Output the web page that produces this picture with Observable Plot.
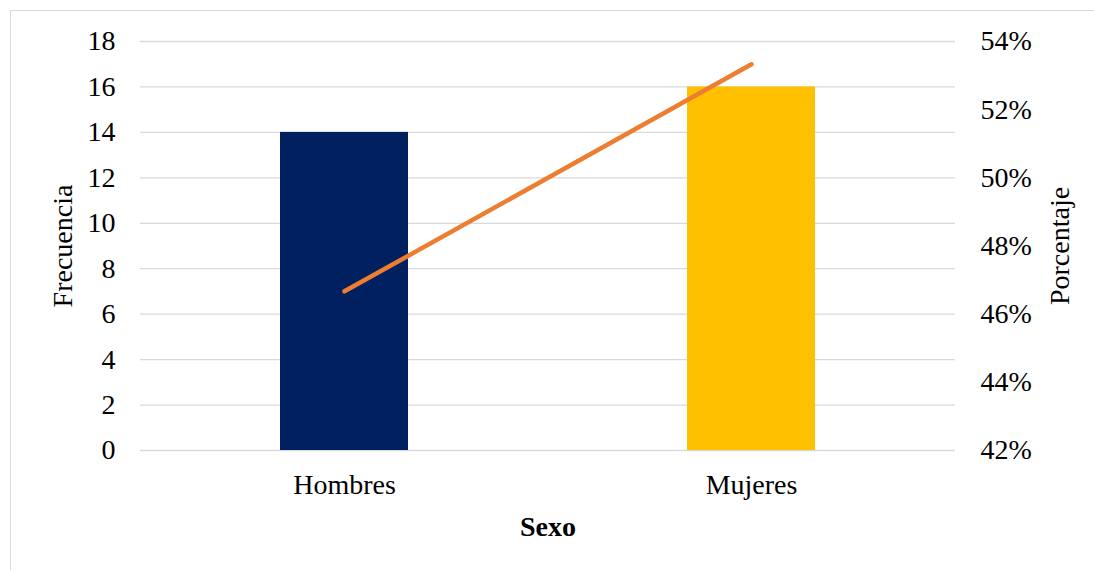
<!DOCTYPE html>
<html>
<head>
<meta charset="utf-8">
<script src="https://cdn.jsdelivr.net/npm/d3@7"></script>
<script src="https://cdn.jsdelivr.net/npm/@observablehq/plot@0.6"></script>
<style>
  html, body { margin: 0; padding: 0; background: #fff; }
  #wrap { position: relative; width: 1094px; height: 570px; overflow: hidden; }
  #border { position: absolute; left: 10px; top: 10px; width: 1200px; height: 700px;
            border-left: 1.5px solid #d9d9d9; border-top: 1.5px solid #d9d9d9; box-sizing: border-box; }
  #chart { position: absolute; left: 0; top: 0; }
  #chart svg text { font-family: 'Liberation Serif', 'Times New Roman', serif !important; font-variant: normal !important; font-variant-numeric: normal !important; }
</style>
</head>
<body>
<div id="wrap"><div id="border"></div><div id="chart"></div></div>
<script>
const categories = ["Hombres", "Mujeres"];
const frecuencia = [14, 16];
const porcentaje = [46.67, 53.33];
const leftTicks = [0, 2, 4, 6, 8, 10, 12, 14, 16, 18];
const rightTicks = [42, 44, 46, 48, 50, 52, 54];
const colors = ["#002060", "#FFC000"];
const xTitle = "Sexo";
const yTitleLeft = "Frecuencia";
const yTitleRight = "Porcentaje";

const yMax = 18, pMin = 42, pMax = 54;
const toFreq = p => (p - pMin) / (pMax - pMin) * yMax;
const toPct = f => pMin + f / yMax * (pMax - pMin);

const data = categories.map((c, i) => ({sexo: c, f: frecuencia[i], p: porcentaje[i], color: colors[i]}));

const font = "'Liberation Serif', 'Times New Roman', serif";

const chart = Plot.plot({
  width: 1094,
  height: 570,
  marginLeft: 140,
  marginRight: 139,
  marginTop: 41,
  marginBottom: 120,
  style: {fontFamily: font, fontSize: "28px", color: "#000", background: "transparent"},
  x: {domain: categories, paddingInner: 0.686, paddingOuter: 0.343},
  y: {domain: [0, yMax]},
  marks: [
    Plot.gridY(leftTicks, {stroke: "#d9d9d9", strokeOpacity: 1, strokeWidth: 1.3}),
    Plot.barY(data, {x: "sexo", y: "f", fill: "color"}),
    Plot.line(data, {x: "sexo", y: d => toFreq(d.p), stroke: "#ED7D31", strokeWidth: 4.5, strokeLinecap: "round"}),
    Plot.axisY({ticks: leftTicks, tickSize: 0, tickPadding: 25, label: yTitleLeft, labelAnchor: "center", labelOffset: 88, labelArrow: false, fontSize: 28, fontFamily: font, fontVariant: "normal"}),
    Plot.axisY({anchor: "right", ticks: rightTicks.map(toFreq), tickFormat: f => Math.round(toPct(f)) + "%", tickSize: 0, tickPadding: 25, label: yTitleRight, labelAnchor: "center", labelOffset: 113, labelArrow: false, fontSize: 28, fontFamily: font, fontVariant: "normal"}),
    Plot.axisX({tickSize: 0, tickPadding: 24, label: null, fontSize: 28, fontFamily: font}),
    Plot.text([xTitle], {frameAnchor: "bottom", dy: 77, fontWeight: "bold", fontSize: 28, lineAnchor: "middle", fontFamily: font})
  ]
});
document.getElementById("chart").appendChild(chart);
</script>
</body>
</html>
